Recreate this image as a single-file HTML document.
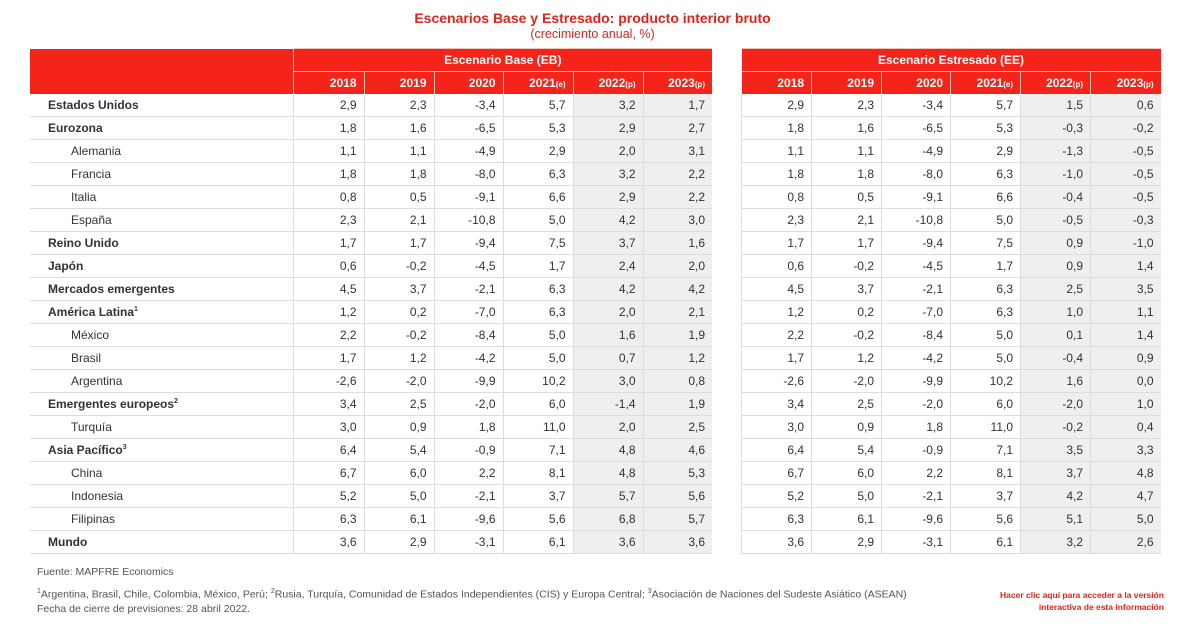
<!DOCTYPE html>
<html><head><meta charset="utf-8"><style>
body{margin:0;width:1185px;height:634px;background:#fff;font-family:"Liberation Sans",sans-serif;position:relative;overflow:hidden;color:#333}
.t{position:absolute;left:0;width:1185px;text-align:center;color:#e2231a}
table{position:absolute;top:48px;border-collapse:collapse;table-layout:fixed;font-size:12px}
td,th{padding:0 7px 0 0;text-align:right;height:22px;white-space:nowrap;overflow:hidden}
th{background:#f4241a;color:#fff;font-weight:bold;border-left:1px solid #f5c0b5;border-top:1px solid #f5c0b5}
th.top{text-align:center;padding:0}
th.lab{border:none}
td{border-bottom:1px solid #ddd;border-left:1px solid #ddd;height:22px}
td.l{text-align:left;padding-left:18px;border-left:none;font-weight:bold;color:#333}
td.i{text-align:left;padding-left:41px;border-left:none;color:#333}
td.g{background:#efefef}
sup{font-size:7px}
small{font-size:8px}
.f{position:absolute;left:37px;font-size:10.5px;color:#555}
</style></head><body>
<div class="t" style="top:10px;font-size:14px;font-weight:bold">Escenarios Base y Estresado: producto interior bruto</div>
<div class="t" style="top:27px;font-size:12.5px">(crecimiento anual, %)</div>

<table style="left:30px;width:682px">
<colgroup><col style="width:263px"><col style="width:71px"><col style="width:70px"><col style="width:69px"><col style="width:70px"><col style="width:70px"><col style="width:69px"></colgroup>
<tr><th class="lab" rowspan="2" style="height:45px"></th><th class="top" colspan="6">Escenario Base (EB)</th></tr>
<tr><th>2018</th><th>2019</th><th>2020</th><th>2021<small>(e)</small></th><th>2022<small>(p)</small></th><th>2023<small>(p)</small></th></tr>
<tr><td class="l">Estados Unidos</td><td>2,9</td><td>2,3</td><td>-3,4</td><td>5,7</td><td class="g">3,2</td><td class="g">1,7</td></tr>
<tr><td class="l">Eurozona</td><td>1,8</td><td>1,6</td><td>-6,5</td><td>5,3</td><td class="g">2,9</td><td class="g">2,7</td></tr>
<tr><td class="i">Alemania</td><td>1,1</td><td>1,1</td><td>-4,9</td><td>2,9</td><td class="g">2,0</td><td class="g">3,1</td></tr>
<tr><td class="i">Francia</td><td>1,8</td><td>1,8</td><td>-8,0</td><td>6,3</td><td class="g">3,2</td><td class="g">2,2</td></tr>
<tr><td class="i">Italia</td><td>0,8</td><td>0,5</td><td>-9,1</td><td>6,6</td><td class="g">2,9</td><td class="g">2,2</td></tr>
<tr><td class="i">España</td><td>2,3</td><td>2,1</td><td>-10,8</td><td>5,0</td><td class="g">4,2</td><td class="g">3,0</td></tr>
<tr><td class="l">Reino Unido</td><td>1,7</td><td>1,7</td><td>-9,4</td><td>7,5</td><td class="g">3,7</td><td class="g">1,6</td></tr>
<tr><td class="l">Japón</td><td>0,6</td><td>-0,2</td><td>-4,5</td><td>1,7</td><td class="g">2,4</td><td class="g">2,0</td></tr>
<tr><td class="l">Mercados emergentes</td><td>4,5</td><td>3,7</td><td>-2,1</td><td>6,3</td><td class="g">4,2</td><td class="g">4,2</td></tr>
<tr><td class="l">América Latina<sup>1</sup></td><td>1,2</td><td>0,2</td><td>-7,0</td><td>6,3</td><td class="g">2,0</td><td class="g">2,1</td></tr>
<tr><td class="i">México</td><td>2,2</td><td>-0,2</td><td>-8,4</td><td>5,0</td><td class="g">1,6</td><td class="g">1,9</td></tr>
<tr><td class="i">Brasil</td><td>1,7</td><td>1,2</td><td>-4,2</td><td>5,0</td><td class="g">0,7</td><td class="g">1,2</td></tr>
<tr><td class="i">Argentina</td><td>-2,6</td><td>-2,0</td><td>-9,9</td><td>10,2</td><td class="g">3,0</td><td class="g">0,8</td></tr>
<tr><td class="l">Emergentes europeos<sup>2</sup></td><td>3,4</td><td>2,5</td><td>-2,0</td><td>6,0</td><td class="g">-1,4</td><td class="g">1,9</td></tr>
<tr><td class="i">Turquía</td><td>3,0</td><td>0,9</td><td>1,8</td><td>11,0</td><td class="g">2,0</td><td class="g">2,5</td></tr>
<tr><td class="l">Asia Pacífico<sup>3</sup></td><td>6,4</td><td>5,4</td><td>-0,9</td><td>7,1</td><td class="g">4,8</td><td class="g">4,6</td></tr>
<tr><td class="i">China</td><td>6,7</td><td>6,0</td><td>2,2</td><td>8,1</td><td class="g">4,8</td><td class="g">5,3</td></tr>
<tr><td class="i">Indonesia</td><td>5,2</td><td>5,0</td><td>-2,1</td><td>3,7</td><td class="g">5,7</td><td class="g">5,6</td></tr>
<tr><td class="i">Filipinas</td><td>6,3</td><td>6,1</td><td>-9,6</td><td>5,6</td><td class="g">6,8</td><td class="g">5,7</td></tr>
<tr><td class="l">Mundo</td><td>3,6</td><td>2,9</td><td>-3,1</td><td>6,1</td><td class="g">3,6</td><td class="g">3,6</td></tr>
</table>

<table style="left:741px;width:419px">
<colgroup><col style="width:70px"><col style="width:70px"><col style="width:69px"><col style="width:70px"><col style="width:70px"><col style="width:70px"></colgroup>
<tr><th class="top" colspan="6" style="border-left:none">Escenario Estresado (EE)</th></tr>
<tr><th style="border-left:none">2018</th><th>2019</th><th>2020</th><th>2021<small>(e)</small></th><th>2022<small>(p)</small></th><th>2023<small>(p)</small></th></tr>
<tr><td>2,9</td><td>2,3</td><td>-3,4</td><td>5,7</td><td class="g">1,5</td><td class="g">0,6</td></tr>
<tr><td>1,8</td><td>1,6</td><td>-6,5</td><td>5,3</td><td class="g">-0,3</td><td class="g">-0,2</td></tr>
<tr><td>1,1</td><td>1,1</td><td>-4,9</td><td>2,9</td><td class="g">-1,3</td><td class="g">-0,5</td></tr>
<tr><td>1,8</td><td>1,8</td><td>-8,0</td><td>6,3</td><td class="g">-1,0</td><td class="g">-0,5</td></tr>
<tr><td>0,8</td><td>0,5</td><td>-9,1</td><td>6,6</td><td class="g">-0,4</td><td class="g">-0,5</td></tr>
<tr><td>2,3</td><td>2,1</td><td>-10,8</td><td>5,0</td><td class="g">-0,5</td><td class="g">-0,3</td></tr>
<tr><td>1,7</td><td>1,7</td><td>-9,4</td><td>7,5</td><td class="g">0,9</td><td class="g">-1,0</td></tr>
<tr><td>0,6</td><td>-0,2</td><td>-4,5</td><td>1,7</td><td class="g">0,9</td><td class="g">1,4</td></tr>
<tr><td>4,5</td><td>3,7</td><td>-2,1</td><td>6,3</td><td class="g">2,5</td><td class="g">3,5</td></tr>
<tr><td>1,2</td><td>0,2</td><td>-7,0</td><td>6,3</td><td class="g">1,0</td><td class="g">1,1</td></tr>
<tr><td>2,2</td><td>-0,2</td><td>-8,4</td><td>5,0</td><td class="g">0,1</td><td class="g">1,4</td></tr>
<tr><td>1,7</td><td>1,2</td><td>-4,2</td><td>5,0</td><td class="g">-0,4</td><td class="g">0,9</td></tr>
<tr><td>-2,6</td><td>-2,0</td><td>-9,9</td><td>10,2</td><td class="g">1,6</td><td class="g">0,0</td></tr>
<tr><td>3,4</td><td>2,5</td><td>-2,0</td><td>6,0</td><td class="g">-2,0</td><td class="g">1,0</td></tr>
<tr><td>3,0</td><td>0,9</td><td>1,8</td><td>11,0</td><td class="g">-0,2</td><td class="g">0,4</td></tr>
<tr><td>6,4</td><td>5,4</td><td>-0,9</td><td>7,1</td><td class="g">3,5</td><td class="g">3,3</td></tr>
<tr><td>6,7</td><td>6,0</td><td>2,2</td><td>8,1</td><td class="g">3,7</td><td class="g">4,8</td></tr>
<tr><td>5,2</td><td>5,0</td><td>-2,1</td><td>3,7</td><td class="g">4,2</td><td class="g">4,7</td></tr>
<tr><td>6,3</td><td>6,1</td><td>-9,6</td><td>5,6</td><td class="g">5,1</td><td class="g">5,0</td></tr>
<tr><td>3,6</td><td>2,9</td><td>-3,1</td><td>6,1</td><td class="g">3,2</td><td class="g">2,6</td></tr>
</table>

<div class="f" style="top:566px">Fuente: MAPFRE Economics</div>
<div class="f" style="top:588px"><sup>1</sup>Argentina, Brasil, Chile, Colombia, México, Perú; <sup>2</sup>Rusia, Turquía, Comunidad de Estados Independientes (CIS) y Europa Central; <sup>3</sup>Asociación de Naciones del Sudeste Asiático (ASEAN)</div>
<div class="f" style="top:603px">Fecha de cierre de previsiones: 28 abril 2022.</div>
<div style="position:absolute;left:900px;width:264px;top:589px;text-align:right;font-size:8.5px;font-weight:bold;color:#e2231a;line-height:12px">Hacer clic aquí para acceder a la versión<br>interactiva de esta información</div>
</body></html>
